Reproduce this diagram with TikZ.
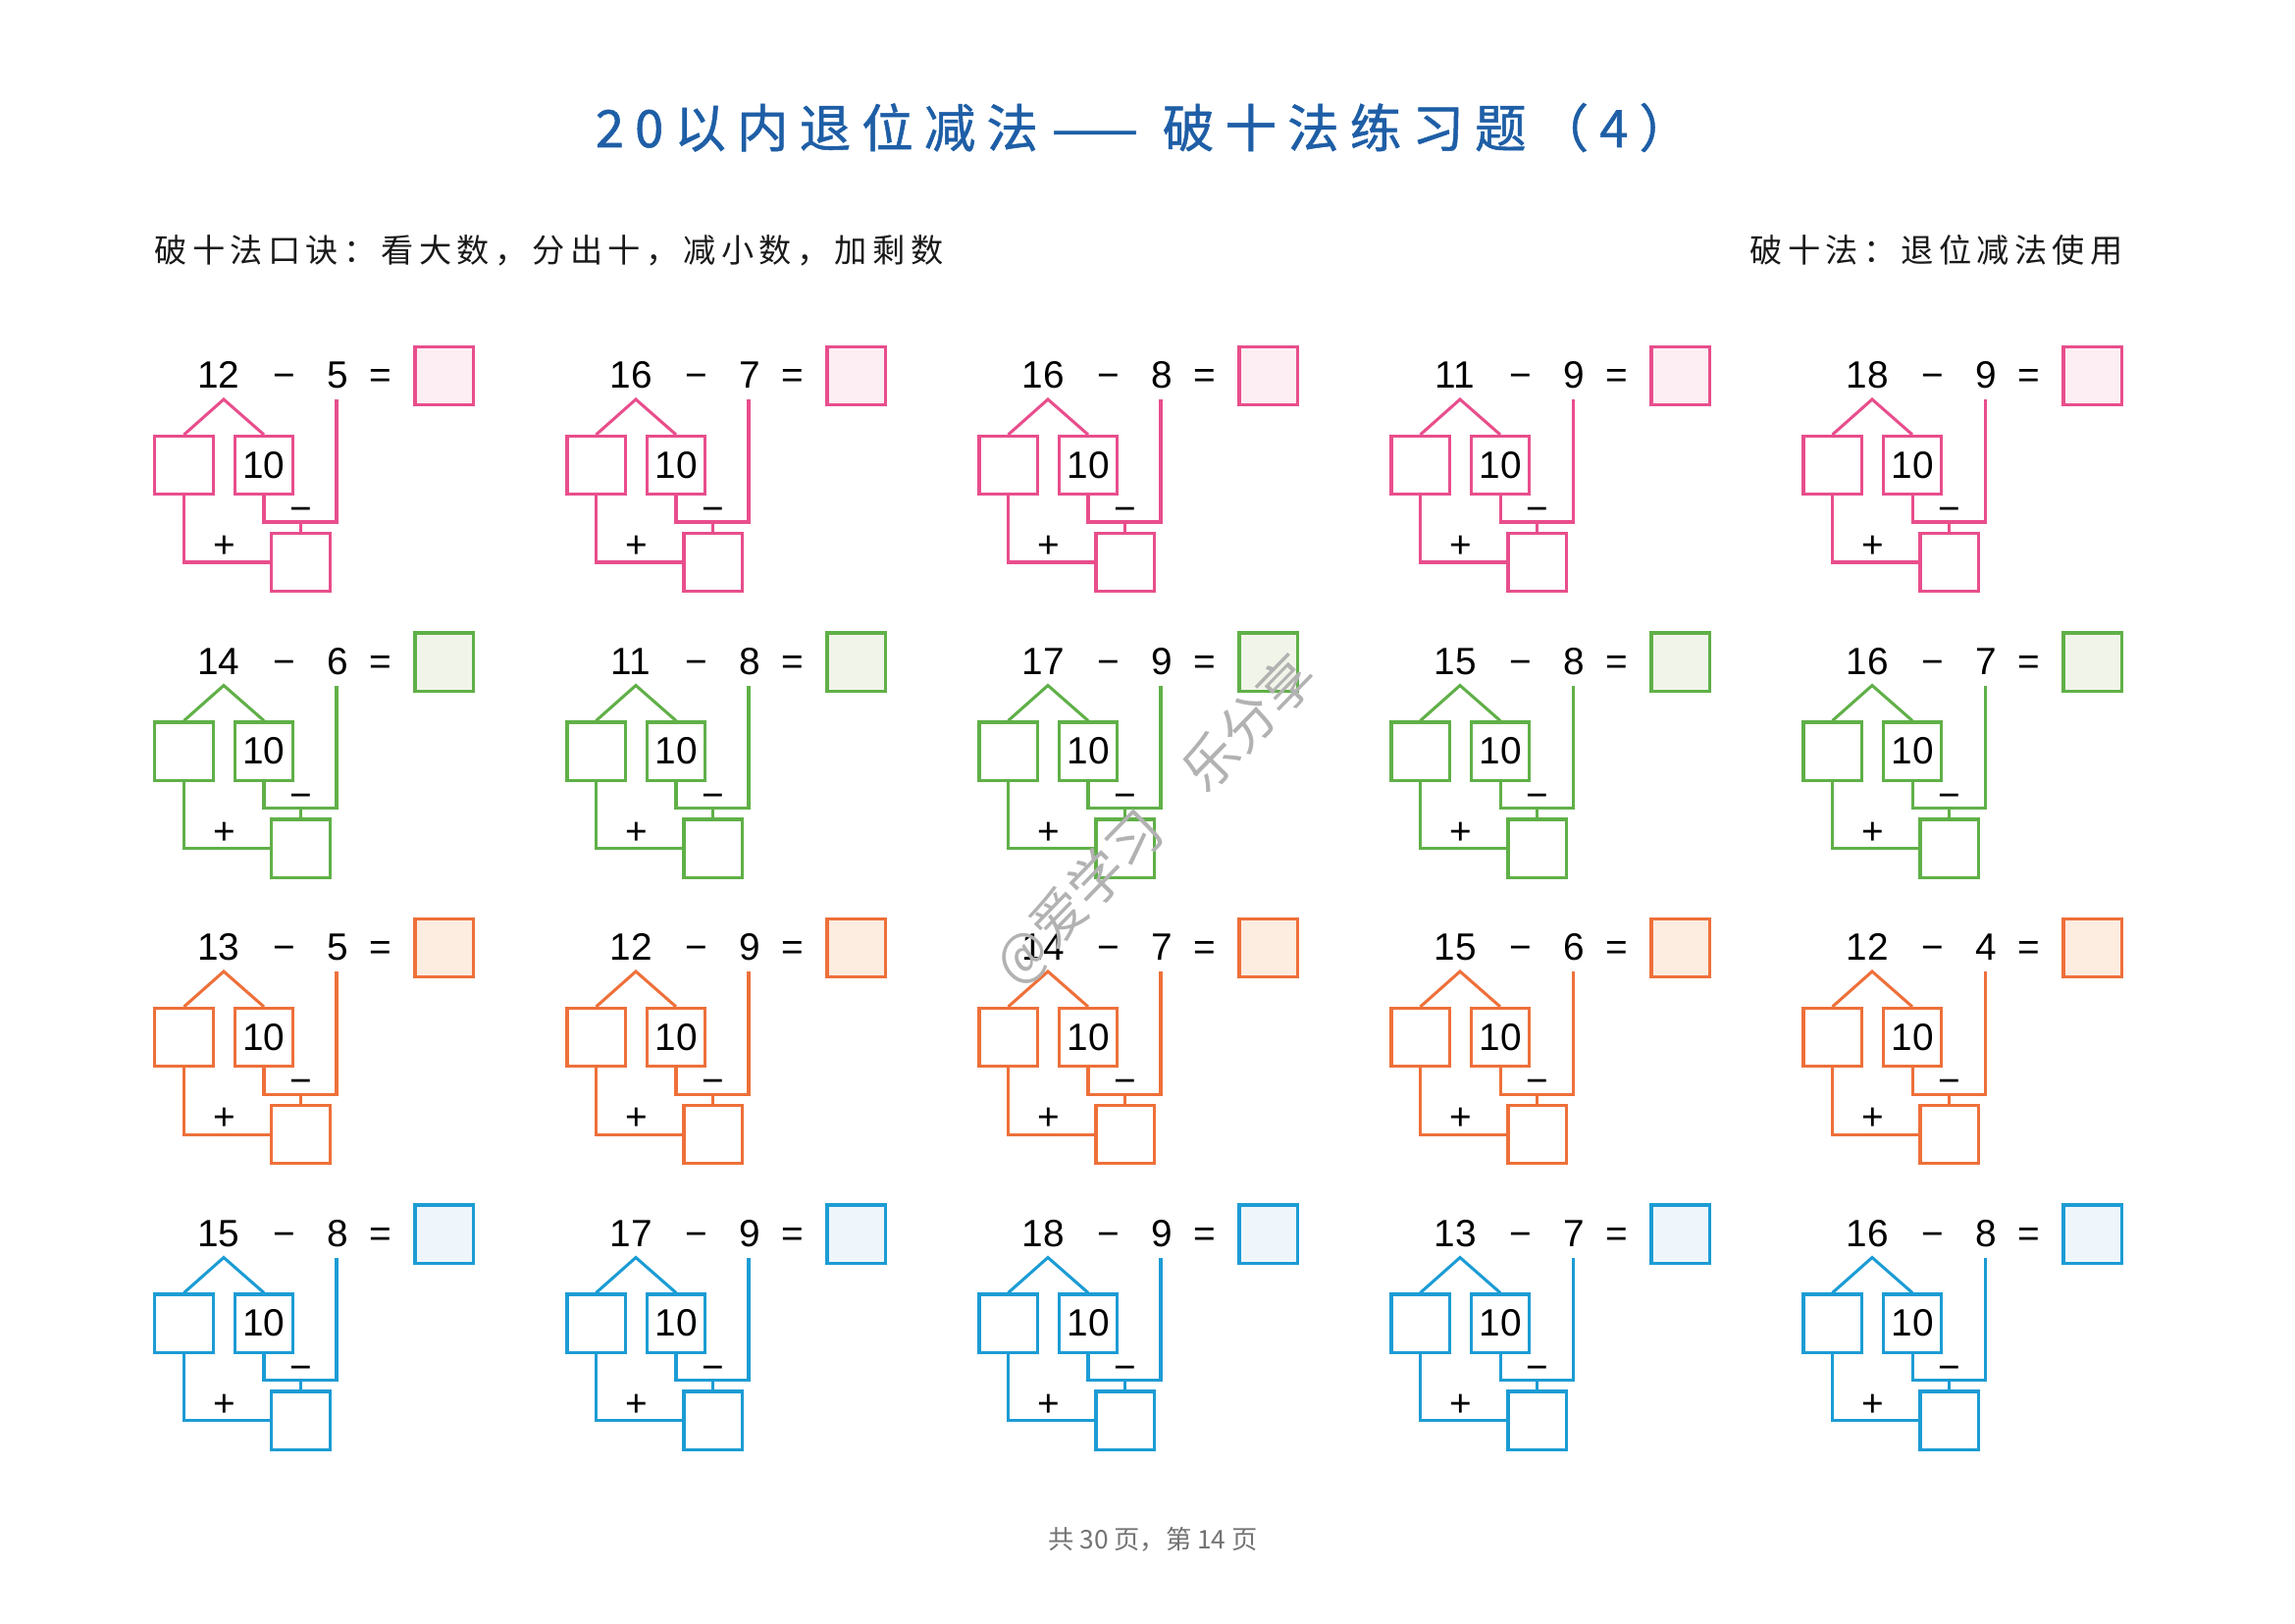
\documentclass[tikz,border=0pt]{standalone}
\usepackage{fontspec}
\setmainfont{Liberation Sans}
\newfontfamily\cjk{Noto Sans CJK SC}
\definecolor{titleblue}{RGB}{30,94,166}
\definecolor{pinkline}{RGB}{232,78,140}
\definecolor{pinkfill}{RGB}{253,238,243}
\definecolor{greenline}{RGB}{96,176,72}
\definecolor{greenfill}{RGB}{241,245,233}
\definecolor{orangeline}{RGB}{238,112,58}
\definecolor{orangefill}{RGB}{253,236,224}
\definecolor{blueline}{RGB}{28,156,212}
\definecolor{bluefill}{RGB}{238,246,251}
\tikzset{
  numtxt/.style={inner sep=0pt, text height=0.72em, text depth=0pt, font=\fontsize{14}{16}\selectfont},
  cell/.style={draw=#1, line width=1.1pt, minimum size=7.5mm, inner sep=0pt, font=\fontsize{14}{16}\selectfont},
  link/.style={draw=#1, line width=1.1pt},
  head/.style={inner sep=0pt, text=black!90, font=\cjk\fontsize{12}{14}\selectfont\addfontfeature{LetterSpace=16}},
}
\begin{document}
\begin{tikzpicture}[x=0.127mm,y=-0.127mm]
\useasboundingbox (0,0) rectangle (2339,1654);
\node[inner sep=0pt, text=titleblue, font=\cjk\fontsize{19}{23}\selectfont\addfontfeature{LetterSpace=21,FakeBold=1}] (title) at (1165,130)
  {20以内退位减法\hspace{5pt}{\addfontfeature{LetterSpace=0}——}\hspace{9pt}破十法练习题（4）};
\node[head, anchor=west] (rule) at (157,255) {破十法口诀：看大数，分出十，减小数，加剩数};
\node[head, anchor=east] (use) at (2164,255) {破十法：退位减法使用};
% the twenty exercises, one row per colour
\foreach \lc/\fc/\probs [count=\r from 0] in {
  pinkline/pinkfill/{12/5,16/7,16/8,11/9,18/9},
  greenline/greenfill/{14/6,11/8,17/9,15/8,16/7},
  orangeline/orangefill/{13/5,12/9,14/7,15/6,12/4},
  blueline/bluefill/{15/8,17/9,18/9,13/7,16/8}}{
  \foreach \a/\b [count=\c from 0] in \probs {
    \pgfmathsetmacro\X{187.5+420*\c}
    \pgfmathsetmacro\Y{474+291.5*\r}
    \node[numtxt] (a\r\c) at (\X+35.5,\Y-88) {\a};
    \node[numtxt] (m\r\c) at (\X+102.5,\Y-88) {−};
    \node[numtxt] (b\r\c) at (\X+156.5,\Y-88) {\b};
    \node[numtxt] (e\r\c) at (\X+200.5,\Y-88) {=};
    \node[cell=\lc, fill=\fc] (ans\r\c) at (\X+265,\Y-91) {};
    \node[cell=\lc] (lb\r\c) at (\X,\Y) {};
    \node[cell=\lc] (rb\r\c) at (\X+81.5,\Y) {10};
    \node[cell=\lc] (res\r\c) at (\X+119,\Y+99) {};
    \coordinate (top\r\c) at (\X+40.5,\Y-67);
    \coordinate (bt\r\c) at (\X+155.5,\Y-67);
    \coordinate (j\r\c) at (\X+119,\Y+58);
    \draw[link=\lc] (lb\r\c.north) -- (top\r\c) -- (rb\r\c.north);
    \draw[link=\lc] (rb\r\c.south) |- (j\r\c) -| (bt\r\c);
    \draw[link=\lc] (j\r\c) -- (res\r\c.north);
    \draw[link=\lc] (lb\r\c.south) |- (res\r\c.west);
    \node[numtxt] (mi\r\c) at (\X+119.5,\Y+48) {−};
    \node[numtxt] (pl\r\c) at (\X+41.5,\Y+85) {+};
  }
}
\node[text=black!55, font=\cjk\fontsize{9.5}{11}\selectfont] (page) at (1175,1569) {共 30 页，第 14 页};
\node[rotate=45.7, text=black!30, font=\cjk\fontsize{20}{24}\selectfont] (mark) at (1178,836) {@爱学习\quad 乐分享};
\end{tikzpicture}
\end{document}
